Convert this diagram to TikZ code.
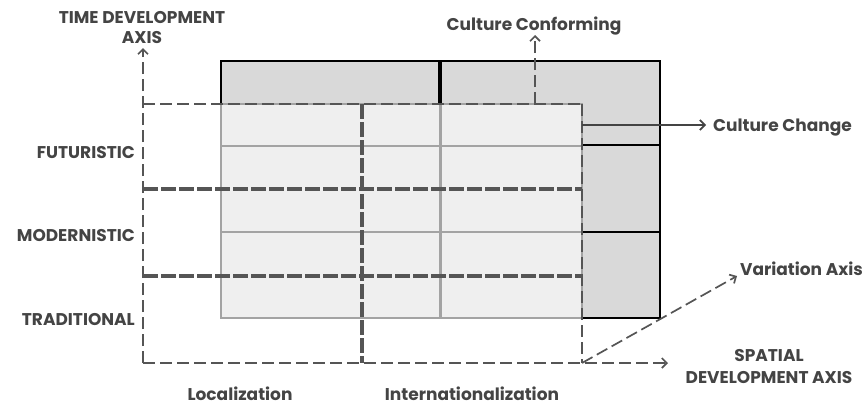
\documentclass[tikz,border=0pt]{standalone}
\usepackage{fontspec}
\setmainfont{Poppins}
\definecolor{DTInk}{HTML}{444444}
\definecolor{DTDash}{HTML}{555555}
\definecolor{DTBack}{HTML}{D9D9D9}
\definecolor{DTFront}{HTML}{EFEFEF}
\definecolor{DTEdge}{HTML}{A3A3A3}
\usetikzlibrary{positioning,arrows.meta}

\begin{document}
\begin{tikzpicture}[x=1pt, y=-1pt, font=\fontsize{17}{20}\selectfont\bfseries,
    lbl/.style={text=DTInk, inner sep=0pt, align=center},
    thinaxis/.style={DTDash, line width=1.7pt, dash pattern=on 12pt off 5pt},
    heavyaxis/.style={DTDash, line width=3.4pt, dash pattern=on 15pt off 3pt},
    barb/.style={-{Straight Barb[length=5pt,width=10pt,line width=1.7pt]}}]
    \useasboundingbox (0,0) rectangle (863,405);

    % back layer
    \draw[fill=DTBack, line width=1.8pt] (221,61) rectangle (660,318);
    \draw[line width=1.8pt] (582,145) -- (660,145) (582,232) -- (660,232);
    \draw[line width=4pt] (440,61) -- (440,104);

    % front layer
    \draw[draw=DTEdge, fill=DTFront, line width=1.6pt] (221,104) rectangle (582,318);
    \draw[DTEdge, line width=1.6pt] (221,146) -- (582,146) (221,232) -- (582,232);
    \draw[DTEdge, line width=3pt] (440,104) -- (440,318);

    % axis points
    \coordinate (o) at (143,363);
    \coordinate (timetip) at (143,48);
    \coordinate (spacetip) at (668,363);
    \coordinate (corner) at (582,363);
    \coordinate (vartip) at (737,276);
    \coordinate (conffoot) at (535,104);
    \coordinate (conftip) at (535,35);
    \coordinate (chgfoot) at (582,125);
    \coordinate (chgtip) at (706,125);

    % dashed grid
    \draw[thinaxis] (143,104) -- (582,104);
    \draw[heavyaxis] (143,189) -- (582,189);
    \draw[heavyaxis] (143,276) -- (582,276);
    \draw[heavyaxis] (362,104) -- (362,363);
    \draw[thinaxis] (582,104) -- (corner);

    % axes
    \draw[thinaxis, barb] (o) -- (timetip);
    \draw[thinaxis, barb] (o) -- (spacetip);
    \draw[thinaxis, barb] (corner) -- (vartip);
    \draw[thinaxis, barb] (conffoot) -- (conftip);
    \draw[DTInk, line width=1.7pt, barb] (chgfoot) -- (chgtip);

    % labels
    \node[lbl] (time) at (142,28) {TIME DEVELOPMENT\\AXIS};
    \node[lbl, anchor=base] (conform) at (534,30) {Culture Conforming};
    \node[lbl, anchor=base west] (change) at (713,131) {Culture Change};
    \node[lbl, anchor=base east] (futur) at (135,158) {FUTURISTIC};
    \node[lbl, anchor=base east] (modern) at (135,241) {MODERNISTIC};
    \node[lbl, anchor=base east] (trad) at (135,325) {TRADITIONAL};
    \node[lbl, anchor=base west] (variation) at (740,275) {Variation Axis};
    \node[lbl] (spatial) at (769,367) {SPATIAL\\[2pt]DEVELOPMENT AXIS};
    \node[lbl, anchor=base] (local) at (240,400) {Localization};
    \node[lbl, anchor=base] (inter) at (472,400) {Internationalization};
\end{tikzpicture}
\end{document}
